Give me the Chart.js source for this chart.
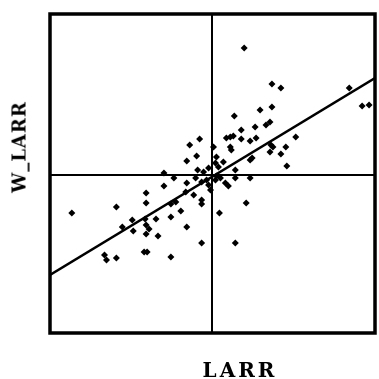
<!DOCTYPE html>
<html>
<head>
<meta charset="utf-8">
<script src="https://cdn.jsdelivr.net/npm/chart.js@4/dist/chart.umd.min.js"></script>
<style>
    body { margin: 0; background: #fff; }
    #wrap { position: relative; width: 379px; height: 379px; }
    .axis-title { position: absolute; font-family: "DejaVu Serif", serif; font-weight: bold; color: #000; white-space: nowrap; }
    #xTitle { left: 240px; top: 370px; transform: translate(-50%, -50%); font-size: 20px; letter-spacing: 3px; }
    #yTitle { left: 19px; top: 147px; transform: translate(-50%, -50%) rotate(-90deg); font-size: 18px; letter-spacing: 1px; }
</style>
</head>
<body>
<div id="wrap">
    <canvas id="moranChart" width="379" height="379"></canvas>
    <div class="axis-title" id="xTitle">LARR</div>
    <div class="axis-title" id="yTitle">W_LARR</div>
</div>
<script>
// Valores (LARR estandarizado vs. retardo espacial W_LARR)
const larr = [
    0.66, 1.22, 1.40, 2.78, 3.04, 3.18, 1.22, 0.98, 0.46, 1.18,
    1.10, 0.88, 0.60, 1.70, 0.90, 0.78, 0.60, 0.30, 0.38, 0.44,
    0.38, 0.40, 1.20, 1.24, 1.50, 1.40, 1.18, 0.78, 0.82, 1.52,
    0.04, 0.10, 0.24, 0.14, 0.48, 0.08, -0.44, -0.24, -0.30, -0.50,
    -0.28, -0.96, -0.16, -0.06, -2.82, -1.92, -1.32, -1.32, -0.96, -0.76,
    -0.50, -0.32, -0.52, -0.36, -0.20, -0.20, -0.82, -0.72, -0.62, -0.82,
    -1.12, -1.34, -1.60, -1.80, -1.58, -1.32, -1.26, -1.32, -1.08, -0.50,
    -0.20, -1.36, -1.30, -2.16, -2.12, -1.92, -0.82, -0.06, -0.02, -0.20,
    -0.10, 0.70, 0.16, 0.48, 0.08, 0.28, 0.34, 0.48, 0.78, 0.10, 0.18
];
const wLarr = [
    2.54, 1.82, 1.74, 1.74, 1.38, 1.40, 1.36, 1.30, 1.18, 1.06,
    1.00, 0.96, 0.90, 0.76, 0.74, 0.68, 0.72, 0.74, 0.76, 0.78,
    0.56, 0.50, 0.60, 0.56, 0.56, 0.42, 0.46, 0.30, 0.34, 0.18,
    0.56, 0.36, 0.26, 0.16, 0.10, 0.24, 0.60, 0.72, 0.38, 0.28,
    0.10, 0.04, 0.06, 0.14, -0.76, -0.64, -0.36, -0.56, -0.22, -0.06,
    -0.16, -0.06, -0.34, -0.40, -0.50, -0.58, -0.58, -0.54, -0.72, -0.84,
    -0.88, -0.88, -0.90, -1.04, -1.12, -1.00, -1.08, -1.18, -1.22, -1.04,
    -1.36, -1.54, -1.54, -1.60, -1.70, -1.66, -1.64, -0.20, -0.30, -0.14,
    -0.10, -0.56, -0.76, -1.36, -0.10, -0.16, -0.22, -0.06, -0.06, -0.02, -0.06
];

// Recta de regresion (extremos dentro del marco)
const fitX = [-3.26, 3.30];
const fitY = [-2.00, 1.94];

// Limites de los ejes
const xMin = -3.26, xMax = 3.30;
const yMin = -3.16, yMax = 3.22;

const points = larr.map((x, i) => ({ x: x, y: wLarr[i] }));
const fitLine = fitX.map((x, i) => ({ x: x, y: fitY[i] }));

// Marco grueso alrededor del area del grafico
const framePlugin = {
    id: 'frame',
    afterDraw(chart) {
        const a = chart.chartArea;
        const ctx = chart.ctx;
        ctx.save();
        ctx.strokeStyle = '#000';
        ctx.lineWidth = 3.5;
        ctx.strokeRect(a.left, a.top, a.right - a.left, a.bottom - a.top);
        ctx.restore();
    }
};

const zeroGrid = {
    color: (c) => (c.tick && c.tick.value === 0 ? '#000' : 'rgba(0,0,0,0)'),
    lineWidth: 2,
    drawTicks: false
};

new Chart(document.getElementById('moranChart'), {
    type: 'scatter',
    data: {
        datasets: [
            {
                label: 'LARR',
                data: points,
                pointStyle: 'rectRot',
                pointRadius: 3.5,
                backgroundColor: '#000',
                borderColor: '#000',
                borderWidth: 0
            },
            {
                type: 'line',
                label: 'ajuste',
                data: fitLine,
                borderColor: '#000',
                borderWidth: 2.5,
                pointRadius: 0,
                fill: false
            }
        ]
    },
    options: {
        responsive: false,
        animation: false,
        layout: { padding: { left: 50, top: 14, right: 1, bottom: 46 } },
        scales: {
            x: {
                type: 'linear',
                min: xMin,
                max: xMax,
                grid: zeroGrid,
                border: { display: false },
                ticks: { display: false, stepSize: 1 }
            },
            y: {
                type: 'linear',
                min: yMin,
                max: yMax,
                grid: zeroGrid,
                border: { display: false },
                ticks: { display: false, stepSize: 1 }
            }
        },
        plugins: {
            legend: { display: false },
            tooltip: { enabled: false }
        }
    },
    plugins: [framePlugin]
});
</script>
</body>
</html>
